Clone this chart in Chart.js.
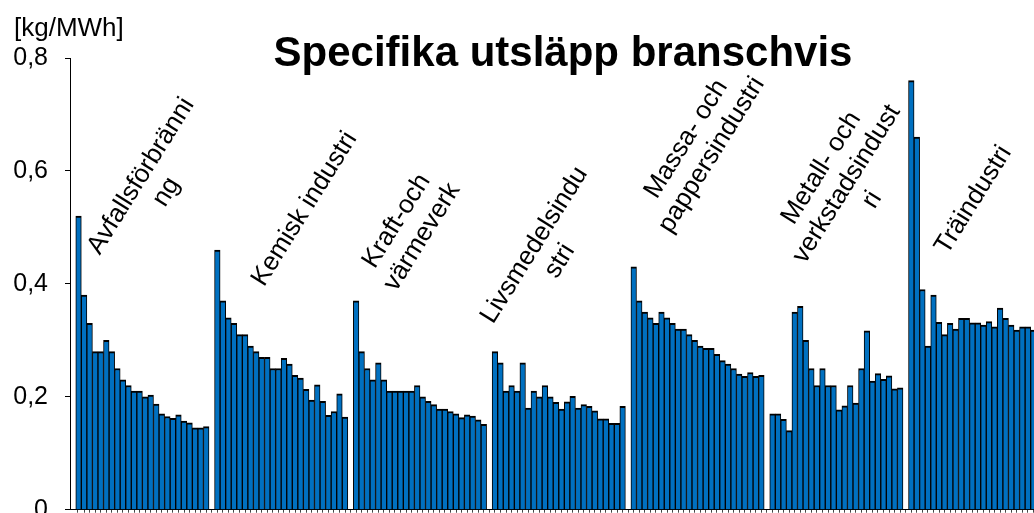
<!DOCTYPE html>
<html>
<head>
<meta charset="utf-8">
<script src="https://cdn.jsdelivr.net/npm/chart.js@4"></script>
<style>
  html, body { margin: 0; padding: 0; overflow: hidden; background: #fff; }
  #wrap { width: 1040px; height: 550px; }
</style>
</head>
<body>
<div id="wrap"><canvas id="myChart" width="1040" height="550"></canvas></div>
<script>
// branscher, one label (with its line breaks) per group
const branscher = [
  ["Avfallsförbränni", "ng"],
  ["Kemisk industri"],
  ["Kraft-och", "värmeverk"],
  ["Livsmedelsindu", "stri"],
  ["Massa- och", "pappersindustri"],
  ["Metall- och", "verkstadsindust", "ri"],
  ["Träindustri"]
];

// kg/MWh per anläggning
const avfall = [0.52, 0.38, 0.33, 0.28, 0.28, 0.30, 0.28, 0.25, 0.23, 0.22, 0.21, 0.21,
  0.20, 0.203, 0.187, 0.17, 0.165, 0.162, 0.168, 0.157, 0.154, 0.145, 0.145, 0.147];
const kemisk = [0.46, 0.37, 0.34, 0.33, 0.31, 0.31, 0.29, 0.28, 0.27, 0.27, 0.25, 0.25,
  0.268, 0.258, 0.238, 0.233, 0.213, 0.194, 0.221, 0.192, 0.167, 0.174, 0.205, 0.164];
const kraft = [0.37, 0.28, 0.25, 0.23, 0.26, 0.23, 0.21, 0.21, 0.21, 0.21, 0.21, 0.22,
  0.20, 0.192, 0.186, 0.178, 0.178, 0.174, 0.17, 0.163, 0.168, 0.166, 0.159, 0.151];
const livsmedel = [0.28, 0.26, 0.21, 0.22, 0.21, 0.26, 0.18, 0.21, 0.20, 0.22, 0.20, 0.19,
  0.178, 0.191, 0.201, 0.18, 0.186, 0.183, 0.175, 0.161, 0.161, 0.153, 0.153, 0.183];
const massa = [0.43, 0.37, 0.35, 0.34, 0.33, 0.35, 0.34, 0.33, 0.32, 0.32, 0.31, 0.30,
  0.29, 0.286, 0.286, 0.275, 0.264, 0.258, 0.25, 0.24, 0.236, 0.243, 0.236, 0.238];
const metall = [0.17, 0.17, 0.16, 0.14, 0.35, 0.36, 0.30, 0.25, 0.22, 0.25, 0.22, 0.22,
  0.177, 0.184, 0.22, 0.189, 0.25, 0.317, 0.228, 0.241, 0.231, 0.237, 0.214, 0.216];
const tra = [0.76, 0.66, 0.39, 0.29, 0.38, 0.332, 0.31, 0.33, 0.32, 0.339, 0.339, 0.331,
  0.331, 0.327, 0.333, 0.324, 0.357, 0.339, 0.327, 0.318, 0.324, 0.324, 0.318];

const yTicks = [0, 0.2, 0.4, 0.6, 0.8];
const rubrik = "Specifika utsläpp branschvis";
const enhet = "[kg/MWh]";

const series = [avfall, kemisk, kraft, livsmedel, massa, metall, tra];
const slotsPerGroup = 25; // 24 bars + one empty slot between groups

let points = [];
series.forEach((vals, g) => {
  vals.forEach((v, i) => {
    points.push({ x: g * slotsPerGroup + i + 0.5, y: v });
  });
});

// where each group label sits: [offset from group start px, center y px]
const labelPos = [[78, 184], [90, 209], [56, 229], [55, 253], [68, 147], [77, 184], [65, 200]];

const textPlugin = {
  id: "texts",
  afterDraw(chart) {
    const ctx = chart.ctx;
    const xs = chart.scales.x;
    ctx.save();
    ctx.fillStyle = "#000";
    ctx.textAlign = "center";
    ctx.textBaseline = "alphabetic";
    ctx.font = 'bold 42px "Liberation Sans", Arial, sans-serif';
    ctx.fillText(rubrik, 563, 66);
    ctx.textAlign = "left";
    ctx.font = '26px "Liberation Sans", Arial, sans-serif';
    ctx.fillText(enhet, 14, 36);

    ctx.font = '26px "Liberation Sans", Arial, sans-serif';
    ctx.textAlign = "center";
    ctx.textBaseline = "middle";
    branscher.forEach((lines, g) => {
      const cx = xs.getPixelForValue(g * slotsPerGroup) + labelPos[g][0];
      const cy = labelPos[g][1];
      ctx.save();
      ctx.translate(cx, cy);
      ctx.rotate(-58 * Math.PI / 180);
      const lh = 30;
      lines.forEach((t, k) => {
        ctx.fillText(t, 0, (k - (lines.length - 1) / 2) * lh);
      });
      ctx.restore();
    });
    ctx.restore();
  }
};

const ctx = document.getElementById("myChart").getContext("2d");
const myChart = new Chart(ctx, {
  type: "bar",
  data: {
    datasets: [
      {
        data: points,
        backgroundColor: "#0070C0",
        borderColor: "#000",
        borderWidth: { top: 2, left: 1, right: 1, bottom: 0 },
        borderSkipped: false,
        barPercentage: 1,
        categoryPercentage: 1
      }
    ]
  },
  options: {
    responsive: false,
    animation: false,
    layout: { padding: { top: 58, right: 1, bottom: 25.3, left: 0 } },
    plugins: { legend: { display: false }, tooltip: { enabled: false }, title: { display: false } },
    scales: {
      x: {
        type: "linear",
        min: -0.537,
        max: 173,
        ticks: { display: false, stepSize: 1, maxTicksLimit: 500 },
        grid: { drawOnChartArea: false, tickLength: 3, color: "#444" },
        border: { color: "#000", width: 1 },
        afterFit: (s) => { s.height = 15; }
      },
      y: {
        min: 0,
        max: 0.8,
        afterBuildTicks: (s) => { s.ticks = yTicks.map((v) => ({ value: v })); },
        ticks: {
          color: "#000",
          padding: 17,
          font: { family: '"Liberation Sans", Arial, sans-serif', size: 25 },
          callback: (v) => (v === 0 ? "0" : v.toFixed(1).replace(".", ","))
        },
        grid: { drawOnChartArea: false, tickLength: 5, color: "#000" },
        border: { color: "#000", width: 1 },
        afterFit: (s) => { s.width = 70; }
      }
    }
  },
  plugins: [textPlugin]
});
</script>
</body>
</html>
